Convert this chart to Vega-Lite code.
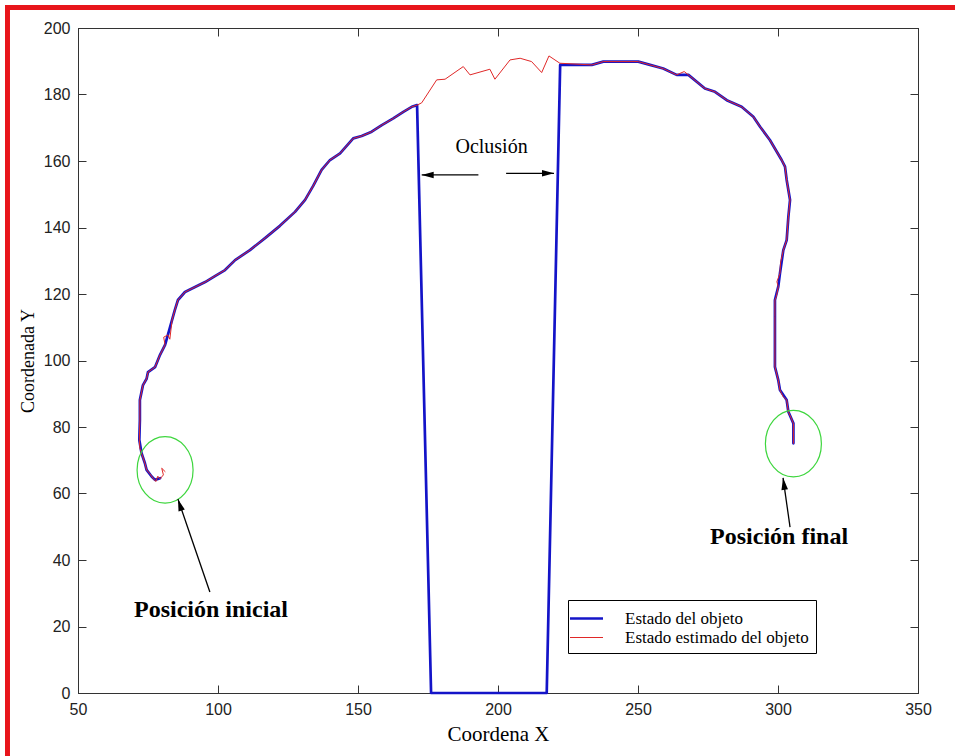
{
"$schema":"https://vega.github.io/schema/vega-lite/v6.json",
"width":840,"height":665,
"autosize":{"type":"none"},
"padding":{"left":78,"top":28,"right":37,"bottom":63},
"background":"white",
"config":{
 "view":{"stroke":"#333","strokeWidth":1},
 "axis":{"grid":false,"labelFlush":false,"domainColor":"#333","tickColor":"#333","tickSize":-8,"labelPadding":16,"labelFont":"Liberation Sans","labelFontSize":16,"labelColor":"#222","titleFont":"Liberation Serif","titleFontWeight":"normal","titleColor":"black"}
},
"datasets":{
"traj":[
{"s":"Estado del objeto","i":0,"x":79.3,"y":64.6},{"s":"Estado del objeto","i":1,"x":77.5,"y":64.1},{"s":"Estado del objeto","i":2,"x":76.3,"y":65.1},{"s":"Estado del objeto","i":3,"x":74.5,"y":67.1},{"s":"Estado del objeto","i":4,"x":73.9,"y":69.1},{"s":"Estado del objeto","i":5,"x":72.7,"y":72.1},{"s":"Estado del objeto","i":6,"x":71.9,"y":76.1},{"s":"Estado del objeto","i":7,"x":72.1,"y":82.1},{"s":"Estado del objeto","i":8,"x":72.1,"y":88.1},{"s":"Estado del objeto","i":9,"x":73.2,"y":92.6},{"s":"Estado del objeto","i":10,"x":74.5,"y":94.5},{"s":"Estado del objeto","i":11,"x":75.0,"y":96.5},{"s":"Estado del objeto","i":12,"x":77.5,"y":98.0},{"s":"Estado del objeto","i":13,"x":79.3,"y":101.7},{"s":"Estado del objeto","i":14,"x":81.1,"y":104.7},{"s":"Estado del objeto","i":15,"x":82.1,"y":107.7},{"s":"Estado del objeto","i":16,"x":83.6,"y":112.2},{"s":"Estado del objeto","i":17,"x":84.6,"y":115.2},{"s":"Estado del objeto","i":18,"x":85.7,"y":118.2},{"s":"Estado del objeto","i":19,"x":88.2,"y":120.6},{"s":"Estado del objeto","i":20,"x":91.8,"y":122.1},{"s":"Estado del objeto","i":21,"x":95.4,"y":123.6},{"s":"Estado del objeto","i":22,"x":98.9,"y":125.4},{"s":"Estado del objeto","i":23,"x":102.5,"y":127.2},{"s":"Estado del objeto","i":24,"x":106.1,"y":130.2},{"s":"Estado del objeto","i":25,"x":111.4,"y":133.2},{"s":"Estado del objeto","i":26,"x":116.8,"y":136.8},{"s":"Estado del objeto","i":27,"x":122.1,"y":140.5},{"s":"Estado del objeto","i":28,"x":127.5,"y":144.7},{"s":"Estado del objeto","i":29,"x":131.1,"y":148.3},{"s":"Estado del objeto","i":30,"x":134.0,"y":152.5},{"s":"Estado del objeto","i":31,"x":137.0,"y":157.3},{"s":"Estado del objeto","i":32,"x":140.0,"y":160.3},{"s":"Estado del objeto","i":33,"x":143.6,"y":162.3},{"s":"Estado del objeto","i":34,"x":148.3,"y":166.8},{"s":"Estado del objeto","i":35,"x":151.3,"y":167.5},{"s":"Estado del objeto","i":36,"x":154.9,"y":168.8},{"s":"Estado del objeto","i":37,"x":158.5,"y":170.8},{"s":"Estado del objeto","i":38,"x":162.6,"y":172.8},{"s":"Estado del objeto","i":39,"x":166.2,"y":174.8},{"s":"Estado del objeto","i":40,"x":169.2,"y":176.3},{"s":"Estado del objeto","i":41,"x":171.1,"y":176.8},{"s":"Estado del objeto","i":42,"x":176.1,"y":0},{"s":"Estado del objeto","i":43,"x":217.4,"y":0},{"s":"Estado del objeto","i":44,"x":222.2,"y":188.9},{"s":"Estado del objeto","i":45,"x":233.5,"y":188.9},{"s":"Estado del objeto","i":46,"x":237.6,"y":189.9},{"s":"Estado del objeto","i":47,"x":250.1,"y":189.9},{"s":"Estado del objeto","i":48,"x":254.3,"y":188.9},{"s":"Estado del objeto","i":49,"x":259.0,"y":187.8},{"s":"Estado del objeto","i":50,"x":263.8,"y":185.9},{"s":"Estado del objeto","i":51,"x":268.0,"y":185.9},{"s":"Estado del objeto","i":52,"x":273.9,"y":181.8},{"s":"Estado del objeto","i":53,"x":277.5,"y":180.8},{"s":"Estado del objeto","i":54,"x":281.7,"y":178.3},{"s":"Estado del objeto","i":55,"x":287.0,"y":176.3},{"s":"Estado del objeto","i":56,"x":291.2,"y":173.3},{"s":"Estado del objeto","i":57,"x":293.6,"y":170.3},{"s":"Estado del objeto","i":58,"x":297.1,"y":166.3},{"s":"Estado del objeto","i":59,"x":301.3,"y":160.3},{"s":"Estado del objeto","i":60,"x":302.5,"y":158.3},{"s":"Estado del objeto","i":61,"x":303.1,"y":154.3},{"s":"Estado del objeto","i":62,"x":304.3,"y":148.3},{"s":"Estado del objeto","i":63,"x":303.7,"y":143.2},{"s":"Estado del objeto","i":64,"x":303.1,"y":136.2},{"s":"Estado del objeto","i":65,"x":301.9,"y":133.2},{"s":"Estado del objeto","i":66,"x":300.7,"y":126.2},{"s":"Estado del objeto","i":67,"x":300.1,"y":122.2},{"s":"Estado del objeto","i":68,"x":298.9,"y":118.2},{"s":"Estado del objeto","i":69,"x":298.9,"y":113.2},{"s":"Estado del objeto","i":70,"x":298.9,"y":98.1},{"s":"Estado del objeto","i":71,"x":300.1,"y":94.1},{"s":"Estado del objeto","i":72,"x":300.7,"y":91.1},{"s":"Estado del objeto","i":73,"x":303.1,"y":88.1},{"s":"Estado del objeto","i":74,"x":303.7,"y":84.6},{"s":"Estado del objeto","i":75,"x":305.5,"y":81.1},{"s":"Estado del objeto","i":76,"x":305.5,"y":75.1},
{"s":"Estado estimado del objeto","i":0,"x":81.1,"y":66.6},{"s":"Estado estimado del objeto","i":1,"x":79.9,"y":67.6},{"s":"Estado estimado del objeto","i":2,"x":80.5,"y":65.6},{"s":"Estado estimado del objeto","i":3,"x":79.3,"y":64.4},{"s":"Estado estimado del objeto","i":4,"x":78.5,"y":65.2},{"s":"Estado estimado del objeto","i":5,"x":77.8,"y":63.6},{"s":"Estado estimado del objeto","i":6,"x":76.8,"y":64.6},{"s":"Estado estimado del objeto","i":7,"x":75.6,"y":66.0},{"s":"Estado estimado del objeto","i":8,"x":74.5,"y":67.1},{"s":"Estado estimado del objeto","i":9,"x":73.9,"y":69.1},{"s":"Estado estimado del objeto","i":10,"x":72.9,"y":71.6},{"s":"Estado estimado del objeto","i":11,"x":72.1,"y":73.6},{"s":"Estado estimado del objeto","i":12,"x":71.9,"y":76.1},{"s":"Estado estimado del objeto","i":13,"x":72.1,"y":82.1},{"s":"Estado estimado del objeto","i":14,"x":72.1,"y":88.1},{"s":"Estado estimado del objeto","i":15,"x":73.2,"y":92.6},{"s":"Estado estimado del objeto","i":16,"x":74.5,"y":94.5},{"s":"Estado estimado del objeto","i":17,"x":75.0,"y":96.5},{"s":"Estado estimado del objeto","i":18,"x":77.5,"y":98.0},{"s":"Estado estimado del objeto","i":19,"x":79.3,"y":101.7},{"s":"Estado estimado del objeto","i":20,"x":81.1,"y":104.7},{"s":"Estado estimado del objeto","i":21,"x":80.6,"y":107.0},{"s":"Estado estimado del objeto","i":22,"x":82.1,"y":107.7},{"s":"Estado estimado del objeto","i":23,"x":82.8,"y":106.4},{"s":"Estado estimado del objeto","i":24,"x":83.6,"y":112.2},{"s":"Estado estimado del objeto","i":25,"x":84.6,"y":115.2},{"s":"Estado estimado del objeto","i":26,"x":85.7,"y":118.2},{"s":"Estado estimado del objeto","i":27,"x":88.2,"y":120.6},{"s":"Estado estimado del objeto","i":28,"x":91.8,"y":122.1},{"s":"Estado estimado del objeto","i":29,"x":95.4,"y":123.6},{"s":"Estado estimado del objeto","i":30,"x":98.9,"y":125.4},{"s":"Estado estimado del objeto","i":31,"x":102.5,"y":127.2},{"s":"Estado estimado del objeto","i":32,"x":106.1,"y":130.2},{"s":"Estado estimado del objeto","i":33,"x":111.4,"y":133.2},{"s":"Estado estimado del objeto","i":34,"x":116.8,"y":136.8},{"s":"Estado estimado del objeto","i":35,"x":122.1,"y":140.5},{"s":"Estado estimado del objeto","i":36,"x":127.5,"y":144.7},{"s":"Estado estimado del objeto","i":37,"x":131.1,"y":148.3},{"s":"Estado estimado del objeto","i":38,"x":134.0,"y":152.5},{"s":"Estado estimado del objeto","i":39,"x":137.0,"y":157.3},{"s":"Estado estimado del objeto","i":40,"x":140.0,"y":160.3},{"s":"Estado estimado del objeto","i":41,"x":143.6,"y":162.3},{"s":"Estado estimado del objeto","i":42,"x":148.3,"y":166.8},{"s":"Estado estimado del objeto","i":43,"x":151.3,"y":167.5},{"s":"Estado estimado del objeto","i":44,"x":154.9,"y":168.8},{"s":"Estado estimado del objeto","i":45,"x":158.5,"y":170.8},{"s":"Estado estimado del objeto","i":46,"x":162.6,"y":172.8},{"s":"Estado estimado del objeto","i":47,"x":166.2,"y":174.8},{"s":"Estado estimado del objeto","i":48,"x":169.2,"y":176.3},{"s":"Estado estimado del objeto","i":49,"x":171.1,"y":176.8},{"s":"Estado estimado del objeto","i":50,"x":172.75,"y":177.5},{"s":"Estado estimado del objeto","i":51,"x":178.1,"y":184.4},{"s":"Estado estimado del objeto","i":52,"x":181.1,"y":184.6},{"s":"Estado estimado del objeto","i":53,"x":187.6,"y":188.4},{"s":"Estado estimado del objeto","i":54,"x":190.0,"y":185.9},{"s":"Estado estimado del objeto","i":55,"x":197.1,"y":187.6},{"s":"Estado estimado del objeto","i":56,"x":198.9,"y":184.6},{"s":"Estado estimado del objeto","i":57,"x":204.3,"y":190.4},{"s":"Estado estimado del objeto","i":58,"x":207.9,"y":190.9},{"s":"Estado estimado del objeto","i":59,"x":212.0,"y":189.9},{"s":"Estado estimado del objeto","i":60,"x":215.6,"y":186.6},{"s":"Estado estimado del objeto","i":61,"x":218.2,"y":191.6},{"s":"Estado estimado del objeto","i":62,"x":222.1,"y":189.4},{"s":"Estado estimado del objeto","i":63,"x":233.5,"y":188.9},{"s":"Estado estimado del objeto","i":64,"x":237.6,"y":189.9},{"s":"Estado estimado del objeto","i":65,"x":250.1,"y":189.9},{"s":"Estado estimado del objeto","i":66,"x":254.3,"y":188.9},{"s":"Estado estimado del objeto","i":67,"x":259.0,"y":187.8},{"s":"Estado estimado del objeto","i":68,"x":263.8,"y":185.9},{"s":"Estado estimado del objeto","i":69,"x":266.5,"y":186.9},{"s":"Estado estimado del objeto","i":70,"x":268.0,"y":185.9},{"s":"Estado estimado del objeto","i":71,"x":273.9,"y":181.8},{"s":"Estado estimado del objeto","i":72,"x":277.5,"y":180.8},{"s":"Estado estimado del objeto","i":73,"x":281.7,"y":178.3},{"s":"Estado estimado del objeto","i":74,"x":287.0,"y":176.3},{"s":"Estado estimado del objeto","i":75,"x":291.2,"y":173.3},{"s":"Estado estimado del objeto","i":76,"x":293.6,"y":170.3},{"s":"Estado estimado del objeto","i":77,"x":297.1,"y":166.3},{"s":"Estado estimado del objeto","i":78,"x":301.3,"y":160.3},{"s":"Estado estimado del objeto","i":79,"x":302.5,"y":158.3},{"s":"Estado estimado del objeto","i":80,"x":303.1,"y":154.3},{"s":"Estado estimado del objeto","i":81,"x":304.3,"y":148.3},{"s":"Estado estimado del objeto","i":82,"x":303.7,"y":143.2},{"s":"Estado estimado del objeto","i":83,"x":303.1,"y":136.2},{"s":"Estado estimado del objeto","i":84,"x":301.9,"y":133.2},{"s":"Estado estimado del objeto","i":85,"x":300.9,"y":129.3},{"s":"Estado estimado del objeto","i":86,"x":300.7,"y":126.2},{"s":"Estado estimado del objeto","i":87,"x":299.6,"y":123.7},{"s":"Estado estimado del objeto","i":88,"x":300.1,"y":122.2},{"s":"Estado estimado del objeto","i":89,"x":299.4,"y":119.2},{"s":"Estado estimado del objeto","i":90,"x":298.9,"y":118.2},{"s":"Estado estimado del objeto","i":91,"x":298.9,"y":113.2},{"s":"Estado estimado del objeto","i":92,"x":298.9,"y":98.1},{"s":"Estado estimado del objeto","i":93,"x":300.1,"y":94.1},{"s":"Estado estimado del objeto","i":94,"x":300.7,"y":91.1},{"s":"Estado estimado del objeto","i":95,"x":301.8,"y":89.2},{"s":"Estado estimado del objeto","i":96,"x":303.1,"y":88.1},{"s":"Estado estimado del objeto","i":97,"x":303.7,"y":84.6},{"s":"Estado estimado del objeto","i":98,"x":305.5,"y":81.1},{"s":"Estado estimado del objeto","i":99,"x":305.5,"y":75.1}
],
"circles":[{"x":81.1,"y":67.1},{"x":305.5,"y":75.0}],
"arrows":[
{"id":"ini","x":97.1,"y":30.4,"x2":85.7,"y2":58.3},
{"id":"fin","x":304.3,"y":49.9,"x2":301.8,"y2":64.7},
{"id":"left","x":193.0,"y":155.8,"x2":172.75,"y2":155.8},
{"id":"right","x":202.9,"y":156.3,"x2":220.0,"y2":156.3}
],
"ann":[
{"t":"Oclusión","k":"o","x":197.7,"y":164.2},
{"t":"Posición inicial","k":"p","x":97.5,"y":25.0},
{"t":"Posición final","k":"p","x":300.4,"y":46.9}
]
},
"layer":[
{"data":{"name":"traj"},
 "mark":{"type":"line","strokeJoin":"round","strokeCap":"round"},
 "encoding":{
  "x":{"field":"x","type":"quantitative","scale":{"domain":[50,350],"nice":false,"zero":false},
       "axis":{"orient":"bottom","values":[50,100,150,200,250,300,350],"title":"Coordena X","titleFontSize":21,"titlePadding":6}},
  "y":{"field":"y","type":"quantitative","scale":{"domain":[0,200],"nice":false,"zero":false},
       "axis":{"orient":"left","values":[0,20,40,60,80,100,120,140,160,180,200],"title":"Coordenada Y","titleFontSize":18,"titlePadding":6}},
  "color":{"field":"s","type":"nominal","scale":{"domain":["Estado del objeto","Estado estimado del objeto"],"range":["#1414c8","#e02828"]},
       "legend":{"orient":"none","legendX":490,"legendY":572,"title":null,"strokeColor":"#000","fillColor":"white","padding":7,"labelFont":"Liberation Serif","labelFontSize":17,"labelColor":"black","labelLimit":400,"symbolType":"M-1.65,0L1.65,0","symbolSize":400,"rowPadding":0,"labelOffset":27,"cornerRadius":0}},
  "strokeWidth":{"field":"s","type":"nominal","scale":{"domain":["Estado del objeto","Estado estimado del objeto"],"range":[2.7,1]},"legend":{"orient":"none","legendX":490,"legendY":572,"title":null,"strokeColor":"#000","fillColor":"white","padding":7,"labelFont":"Liberation Serif","labelFontSize":17,"labelColor":"black","labelLimit":400,"symbolType":"M-1.65,0L1.65,0","symbolSize":400,"rowPadding":0,"labelOffset":27,"cornerRadius":0}},
  "order":{"field":"i","type":"quantitative"}
 }
},
{"data":{"name":"circles"},
 "mark":{"type":"point","shape":"M-1,0A1,1.19,0,1,0,1,0A1,1.19,0,1,0,-1,0Z","size":3136,"filled":false,"stroke":"#3ed63e","strokeWidth":1.2,"opacity":1},
 "encoding":{
  "x":{"field":"x","type":"quantitative","axis":{"orient":"top","values":[50,100,150,200,250,300,350],"labels":false,"title":null}},
  "y":{"field":"y","type":"quantitative","axis":{"orient":"right","values":[0,20,40,60,80,100,120,140,160,180,200],"labels":false,"title":null}}
 }
},
{"data":{"name":"arrows"},
 "mark":{"type":"rule","color":"black","strokeWidth":1.3},
 "encoding":{"x":{"field":"x","type":"quantitative","axis":null},"y":{"field":"y","type":"quantitative","axis":null},"x2":{"field":"x2"},"y2":{"field":"y2"}}
},
{"data":{"name":"arrows"},"transform":[{"filter":"datum.id=='ini'"}],
 "mark":{"type":"point","shape":"M0,0L0.55,2L-0.55,2Z","size":144,"filled":true,"color":"black","opacity":1,"angle":342},
 "encoding":{"x":{"field":"x2","type":"quantitative","axis":null},"y":{"field":"y2","type":"quantitative","axis":null}}
},
{"data":{"name":"arrows"},"transform":[{"filter":"datum.id=='fin'"}],
 "mark":{"type":"point","shape":"M0,0L0.55,2L-0.55,2Z","size":144,"filled":true,"color":"black","opacity":1,"angle":352},
 "encoding":{"x":{"field":"x2","type":"quantitative","axis":null},"y":{"field":"y2","type":"quantitative","axis":null}}
},
{"data":{"name":"arrows"},"transform":[{"filter":"datum.id=='left'"}],
 "mark":{"type":"point","shape":"M0,0L0.55,2L-0.55,2Z","size":144,"filled":true,"color":"black","opacity":1,"angle":270},
 "encoding":{"x":{"field":"x2","type":"quantitative","axis":null},"y":{"field":"y2","type":"quantitative","axis":null}}
},
{"data":{"name":"arrows"},"transform":[{"filter":"datum.id=='right'"}],
 "mark":{"type":"point","shape":"M0,0L0.55,2L-0.55,2Z","size":144,"filled":true,"color":"black","opacity":1,"angle":90},
 "encoding":{"x":{"field":"x2","type":"quantitative","axis":null},"y":{"field":"y2","type":"quantitative","axis":null}}
},
{"data":{"name":"ann"},"transform":[{"filter":"datum.k=='o'"}],
 "mark":{"type":"text","font":"Liberation Serif","fontSize":20,"color":"black","align":"center","baseline":"middle"},
 "encoding":{"x":{"field":"x","type":"quantitative","axis":null},"y":{"field":"y","type":"quantitative","axis":null},"text":{"field":"t"}}
},
{"data":{"name":"ann"},"transform":[{"filter":"datum.k=='p'"}],
 "mark":{"type":"text","font":"Liberation Serif","fontSize":24,"fontWeight":"bold","color":"black","align":"center","baseline":"middle"},
 "encoding":{"x":{"field":"x","type":"quantitative","axis":null},"y":{"field":"y","type":"quantitative","axis":null},"text":{"field":"t"}}
},
{"data":{"values":[{}]},
 "mark":{"type":"rect","color":"#e8151b","clip":false},
 "encoding":{"x":{"datum":23.93,"type":"quantitative","axis":null},"x2":{"datum":25.71},"y":{"datum":206.9,"type":"quantitative","axis":null},"y2":{"datum":-19}}
},
{"data":{"values":[{}]},
 "mark":{"type":"rect","color":"#e8151b","clip":false},
 "encoding":{"x":{"datum":23.93,"type":"quantitative","axis":null},"x2":{"datum":363.5},"y":{"datum":206.9,"type":"quantitative","axis":null},"y2":{"datum":205.4}}
}
],
"resolve":{"axis":{"x":"independent","y":"independent"}}
}
